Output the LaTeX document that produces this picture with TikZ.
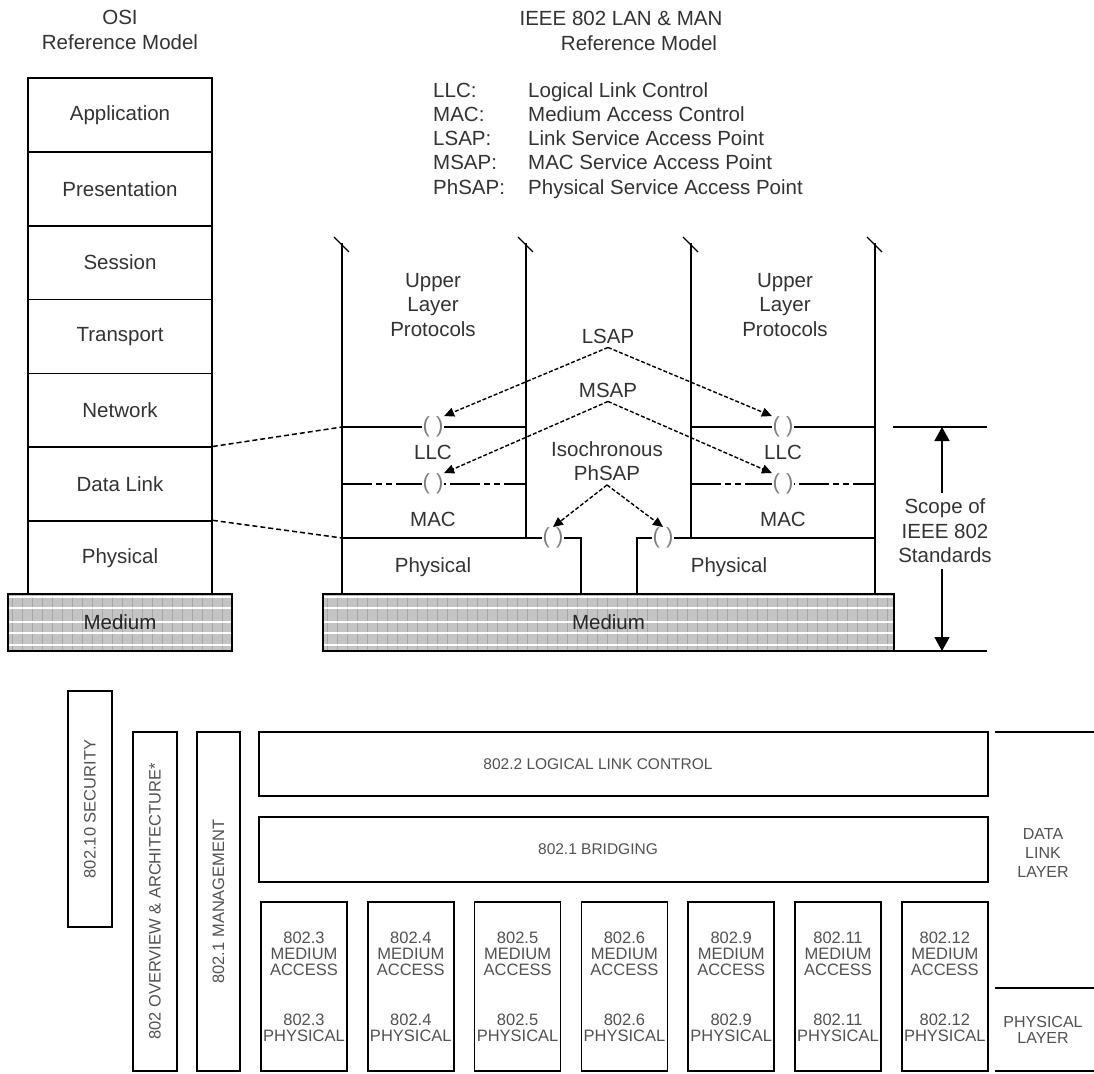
\documentclass[tikz,border=0pt]{standalone}
\usepackage{fontspec}
\setmainfont{Liberation Sans}
\usetikzlibrary{arrows.meta}
\definecolor{ink}{HTML}{333333}
\definecolor{medgray}{HTML}{C4C4C4}
\begin{document}
\begin{tikzpicture}[x=1pt, y=-1pt]
  \tikzset{
    lbl/.style={text=ink, font=\fontsize{20.5}{24.5}\selectfont, align=center, inner sep=0pt},
    small/.style={text=ink!85, font=\fontsize{16.5}{16}\selectfont, align=center, inner sep=0pt},
    wire/.style={line width=1.6pt},
    layer/.style={draw, wire, lbl, minimum width=184pt, minimum height=73.9pt},
    medium/.style={draw, line width=1.5pt, fill=medgray, lbl, text=black!85,
      path picture={
        \foreach \x in {4,14,...,600}
          \draw[gray!70, line width=0.8pt] ([xshift=\x pt]path picture bounding box.north west) -- ([xshift=\x pt]path picture bounding box.south west);
        \foreach \y in {3,14,28,39,51}
          \draw[white, line width=1.6pt] ([yshift=-\y pt]path picture bounding box.north west) -- ([yshift=-\y pt]path picture bounding box.north east);
      }},
    osidash/.style={line width=1.5pt, dash pattern=on 5pt off 3pt},
    macsep/.style={wire, dash pattern=on 30pt off 4pt on 6pt off 4pt on 6pt off 4pt},
    sap/.style={fill=white, inner sep=0.5pt, text=gray, font=\fontsize{22}{22}\selectfont},
    sapname/.style={lbl, inner sep=4pt},
    saparr/.style={line width=1.4pt, dash pattern=on 4pt off 2pt, -{Triangle[width=9pt,length=10pt]}},
    scopearr/.style={wire, -{Triangle[width=15pt,length=14pt]}},
    std/.style={draw, wire, small}
  }
  \fill[white] (0,0) rectangle (1094,1073);
  \useasboundingbox (0,0) rectangle (1094,1073);

  % OSI model
  \node[lbl] (osititle) at (120,30) {OSI\\Reference Model};
  \foreach \name [count=\i] in {Application,Presentation,Session,Transport,Network,Data Link,Physical}
    \node[layer] (osi\i) at (120,{78+73.86*(\i-0.5)}) {\name};
  \node[medium, minimum width=224pt, minimum height=57pt] (medL) at (120,622.5) {Medium};

  % IEEE 802 model, titles and legend
  \node[lbl] (ieee1) at (621,18) {IEEE 802 LAN \& MAN};
  \node[lbl] (ieee2) at (639,43) {Reference Model};
  \foreach \ab/\full [count=\i] in {LLC:/Logical Link Control, MAC:/Medium Access Control, LSAP:/Link Service Access Point, MSAP:/MAC Service Access Point, PhSAP:/Physical Service Access Point} {
    \node[lbl, anchor=base west] (ab\i) at (433,{97+24.3*(\i-1)}) {\ab};
    \node[lbl, anchor=base west] (def\i) at (528,{97+24.3*(\i-1)}) {\full};
  }

  % the two stacks
  \foreach \x/\yb in {342/594, 526/538, 691/538, 875/594} {
    \draw[wire] (\x,243) -- (\x,\yb);
    \draw[line width=1.2pt] (\x-8,237) -- (\x+7,252);
  }
  \draw[wire] (342,427) -- (526,427);
  \draw[wire] (691,427) -- (875,427);
  \draw[macsep] (342,484) -- (526,484);
  \draw[macsep] (691,484) -- (875,484);
  \draw[wire] (342,538) -- (581,538) -- (581,594);
  \draw[wire] (637,594) -- (637,538) -- (875,538);
  \node[medium, minimum width=571pt, minimum height=57pt] (medR) at (608.5,622.5) {Medium};

  \node[lbl] (ulpL) at (433,305) {Upper\\Layer\\Protocols};
  \node[lbl] (ulpR) at (785,305) {Upper\\Layer\\Protocols};
  \node[lbl] (llcL) at (433,452) {LLC};
  \node[lbl] (llcR) at (783,452) {LLC};
  \node[lbl] (macL) at (433,519) {MAC};
  \node[lbl] (macR) at (783,519) {MAC};
  \node[lbl] (physL) at (433,567) {Physical};
  \node[lbl] (physR) at (729,567) {Physical};

  % OSI to IEEE
  \draw[osidash] (osi6.north east) -- (342,427);
  \draw[osidash] (osi7.north east) -- (342,538);

  % service access points
  \node[sap] (lsapL) at (433,427) {( )};
  \node[sap] (lsapR) at (783,427) {( )};
  \node[sap] (msapL) at (433,484) {( )};
  \node[sap] (msapR) at (783,484) {( )};
  \node[sap] (psapL) at (553,538) {( )};
  \node[sap] (psapR) at (663,538) {( )};
  \node[sapname] (lsap) at (608,336) {LSAP};
  \node[sapname] (msap) at (608,390) {MSAP};
  \node[sapname] (phsap) at (607,461) {Isochronous\\PhSAP};
  \draw[saparr] (lsap.south) -- (lsapL.north east);
  \draw[saparr] (lsap.south) -- (lsapR.north west);
  \draw[saparr] (msap.south) -- (msapL.north east);
  \draw[saparr] (msap.south) -- (msapR.north west);
  \draw[saparr] (phsap.south) -- (psapL.north);
  \draw[saparr] (phsap.south) -- (psapR.north);

  % scope of 802
  \draw[wire] (893,427) -- (987,427);
  \draw[wire] (893,651) -- (987,651);
  \coordinate (stop) at (942,427);
  \coordinate (sbot) at (942,651);
  \node[lbl, inner sep=6pt] (scope) at (945,531) {Scope of\\IEEE 802\\Standards};
  \draw[scopearr] (scope.north -| stop) -- (stop);
  \draw[scopearr] (scope.south -| sbot) -- (sbot);

  % 802 family
  \node[std, rotate=90, minimum width=236pt, minimum height=44pt] (sec) at (90,809) {802.10 SECURITY};
  \node[std, rotate=90, minimum width=339pt, minimum height=44pt] (arch) at (155,901.5) {802 OVERVIEW \& ARCHITECTURE*};
  \node[std, rotate=90, minimum width=339pt, minimum height=43pt] (mgmt) at (218.5,901.5) {802.1 MANAGEMENT};
  \node[std, minimum width=729pt, minimum height=64pt] (llcbox) at (623.5,764) {};
  \node[small, font=\fontsize{15.5}{16}\selectfont] (llctxt) at (598,764) {802.2 LOGICAL LINK CONTROL};
  \node[std, minimum width=729pt, minimum height=65pt] (brbox) at (623.5,849.5) {};
  \node[small, font=\fontsize{15.5}{16}\selectfont] (brtxt) at (598,849.5) {802.1 BRIDGING};
  \foreach \n [count=\i from 0] in {3,4,5,6,9,11,12}
    \node[std, minimum width=86pt, minimum height=169pt] (std\n) at ({304+106.8*\i},986.5) {802.\n\\MEDIUM\\ACCESS\\[34pt]802.\n\\PHYSICAL};

  % layer marks on the right
  \draw[wire] (995,732) -- (1094,732);
  \draw[wire] (995,988) -- (1094,988);
  \draw[wire] (995,1071) -- (1094,1071);
  \node[small, font=\fontsize{16}{19}\selectfont] (dll) at (1043,853) {DATA\\LINK\\LAYER};
  \node[small, font=\fontsize{16}{16.5}\selectfont] (phl) at (1043,1030) {PHYSICAL\\LAYER};
\end{tikzpicture}
\end{document}
